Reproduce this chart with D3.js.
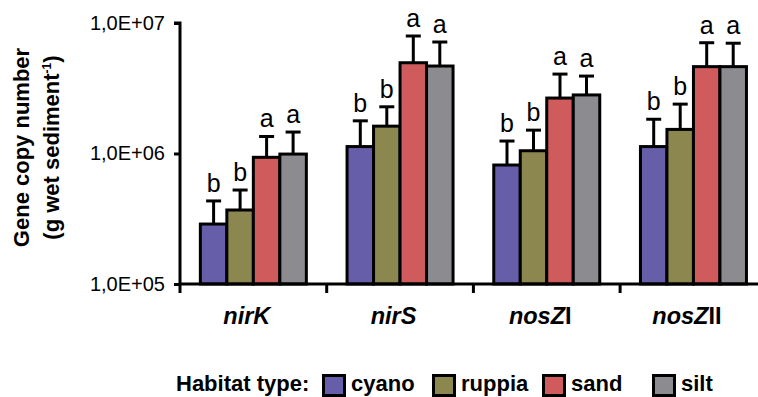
<!DOCTYPE html>
<html>
<head>
<meta charset="utf-8">
<script src="https://cdn.jsdelivr.net/npm/d3@7"></script>
<style>
  html, body { margin: 0; padding: 0; background: #fff; }
  svg { display: block; }
  text { font-family: Arial, "Liberation Sans", sans-serif; fill: #000; }
</style>
</head>
<body>
<svg id="chart" width="758" height="397"></svg>
<script>
// Genes (x categories); italic part + upright suffix
const genes = ["nirK", "nirS", "nosZI", "nosZII"];
const geneItalic = ["nirK", "nirS", "nosZ", "nosZ"];
const geneSuffix = ["", "", "I", "II"];

// Habitat types (series)
const habitats = ["cyano", "ruppia", "sand", "silt"];
const habitatColors = ["#675ea9", "#8b874e", "#d05b5c", "#8c8c90"];

// Mean gene copy numbers per habitat, in gene order
const cyano  = [2.88e5, 1.13e6, 8.16e5, 1.13e6];
const ruppia = [3.69e5, 1.62e6, 1.05e6, 1.53e6];
const sand   = [9.35e5, 4.96e6, 2.66e6, 4.63e6];
const silt   = [9.90e5, 4.68e6, 2.81e6, 4.63e6];

// Standard errors (upper bars only)
const cyanoSE  = [1.45e5, 6.5e5, 4.3e5, 7.0e5];
const ruppiaSE = [1.56e5, 6.6e5, 4.6e5, 8.6e5];
const sandSE   = [4.15e5, 2.99e6, 1.40e6, 2.43e6];
const siltSE   = [4.7e5, 2.47e6, 1.11e6, 2.37e6];

// Significance group letters
const cyanoSig  = ["b", "b", "b", "b"];
const ruppiaSig = ["b", "b", "b", "b"];
const sandSig   = ["a", "a", "a", "a"];
const siltSig   = ["a", "a", "a", "a"];

const yTicks = [1e5, 1e6, 1e7];

const means = [cyano, ruppia, sand, silt];
const errs = [cyanoSE, ruppiaSE, sandSE, siltSE];
const sigs = [cyanoSig, ruppiaSig, sandSig, siltSig];

const records = [];
genes.forEach((g, gi) => {
  habitats.forEach((h, hi) => {
    records.push({gene: g, habitat: h, value: means[hi][gi], se: errs[hi][gi], sig: sigs[hi][gi], color: habitatColors[hi]});
  });
});

const svg = d3.select("#chart");

const plot = {left: 180, top: 23, bottom: 284};
const bandW = 146.7;

const y = d3.scaleLog().domain([1e5, 1e7]).range([plot.bottom, plot.top]);
const x0 = d3.scaleBand().domain(genes).range([plot.left, plot.left + bandW * genes.length]).padding(0);
const groupW = 106;
const x1 = d3.scaleBand().domain(habitats).range([0, groupW]).padding(0);
const groupOffset = (x0.bandwidth() - groupW) / 2;

const fmt = d => "1,0E+" + String(Math.round(Math.log10(d))).padStart(2, "0");

// Bars
const bars = svg.append("g");
bars.selectAll("rect").data(records).join("rect")
  .attr("x", d => x0(d.gene) + groupOffset + x1(d.habitat))
  .attr("y", d => y(d.value))
  .attr("width", x1.bandwidth())
  .attr("height", d => y(1e5) - y(d.value))
  .attr("fill", d => d.color)
  .attr("stroke", "#000")
  .attr("stroke-width", 3);

// Error bars
const eb = svg.append("g").attr("stroke", "#000").attr("stroke-width", 3);
const cx = d => x0(d.gene) + groupOffset + x1(d.habitat) + x1.bandwidth() / 2;
eb.selectAll("line.v").data(records).join("line").attr("class", "v")
  .attr("x1", cx).attr("x2", cx)
  .attr("y1", d => y(d.value)).attr("y2", d => y(d.value + d.se));
eb.selectAll("line.c").data(records).join("line").attr("class", "c")
  .attr("x1", d => cx(d) - 7.5).attr("x2", d => cx(d) + 7.5)
  .attr("y1", d => y(d.value + d.se)).attr("y2", d => y(d.value + d.se));

// Significance letters
svg.append("g").selectAll("text").data(records).join("text")
  .attr("x", cx)
  .attr("y", d => y(d.value + d.se) - 9)
  .attr("text-anchor", "middle")
  .style("font-size", "25px")
  .text(d => d.sig);

// Y axis
const yAxis = d3.axisLeft(y).tickValues(yTicks).tickFormat(fmt).tickSize(6).tickPadding(9);
const yg = svg.append("g").attr("transform", `translate(${plot.left},0)`).call(yAxis);
yg.select(".domain").attr("stroke", "#000").attr("stroke-width", 3).attr("d", `M-6,${plot.top}H0V${plot.bottom + 9}`);
yg.selectAll(".tick line").attr("stroke", "#000").attr("stroke-width", 3);
yg.selectAll(".tick text").style("font-size", "20px").style("font-family", "Arial, 'Liberation Sans', sans-serif").attr("fill", "#000");

// X axis: baseline with ticks at category boundaries
const xg = svg.append("g");
xg.append("line")
  .attr("x1", plot.left).attr("x2", x0.range()[1])
  .attr("y1", plot.bottom).attr("y2", plot.bottom)
  .attr("stroke", "#000").attr("stroke-width", 3);
xg.selectAll("line.t").data(genes.slice(1)).join("line").attr("class", "t")
  .attr("x1", d => x0(d)).attr("x2", d => x0(d))
  .attr("y1", plot.bottom).attr("y2", plot.bottom + 9)
  .attr("stroke", "#000").attr("stroke-width", 3);

// Category labels (set slightly left of the group centres)
const labelShift = -6.5;
const labels = svg.append("g").selectAll("text").data(genes).join("text")
  .attr("x", d => x0(d) + x0.bandwidth() / 2 + labelShift)
  .attr("y", 324)
  .attr("text-anchor", "middle")
  .style("font-size", "23.5px")
  .style("font-weight", "bold");
labels.append("tspan").style("font-style", "italic").text((d, i) => geneItalic[i]);
labels.append("tspan").text((d, i) => geneSuffix[i]);

// Y axis title
const title = svg.append("g").style("font-size", "22px").style("font-weight", "bold");
title.append("text")
  .attr("transform", "translate(29,147.5) rotate(-90)")
  .attr("text-anchor", "middle")
  .text("Gene copy number");
const t2 = title.append("text")
  .attr("transform", "translate(59,147.5) rotate(-90)")
  .attr("text-anchor", "middle");
t2.append("tspan").text("(g wet sediment");
t2.append("tspan").attr("dy", -8).style("font-size", "12px").text("-1");
t2.append("tspan").attr("dy", 8).text(")");

// Legend
const legend = svg.append("g");
legend.append("text").attr("x", 176).attr("y", 391)
  .style("font-size", "22px").style("font-weight", "bold").text("Habitat type:");
const lx = d3.scalePoint().domain(habitats).range([322, 652]);
const li = legend.selectAll("g.item").data(habitats).join("g").attr("class", "item")
  .attr("transform", d => `translate(${lx(d)},0)`);
li.append("rect").attr("x", 1.5).attr("y", 375.5).attr("width", 21).attr("height", 20)
  .attr("fill", (d, i) => habitatColors[i]).attr("stroke", "#000").attr("stroke-width", 3);
li.append("text").attr("x", 29).attr("y", 391)
  .style("font-size", "22px").style("font-weight", "bold").text(d => d);
</script>
</body>
</html>
